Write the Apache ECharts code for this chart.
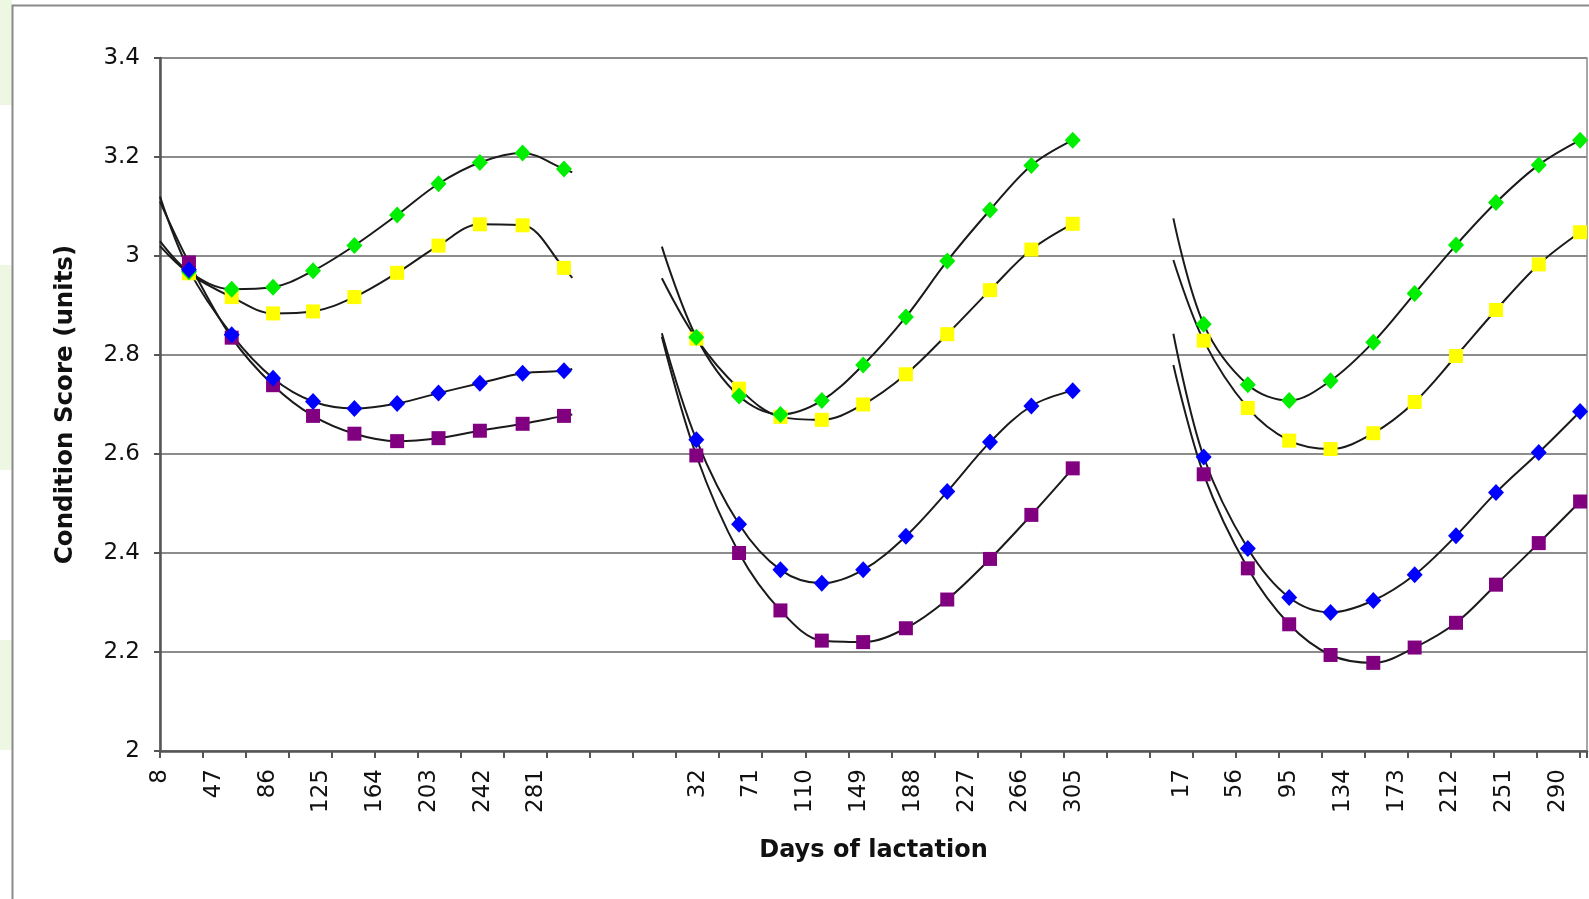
<!DOCTYPE html>
<html>
<head>
<meta charset="utf-8">
<script src="https://cdn.jsdelivr.net/npm/echarts@6/dist/echarts.min.js"></script>
<style>
  html, body { margin: 0; padding: 0; background: #ffffff; }
  #chart { width: 1589px; height: 899px; }
</style>
</head>
<body>
<div id="chart"></div>
<script>
// Category labels along the x axis, one every 39 axis units ('' in the gaps between lactations)
const tickLabels = ['8', '47', '86', '125', '164', '203', '242', '281', '', '',
  '32', '71', '110', '149', '188', '227', '266', '305', '',
  '17', '56', '95', '134', '173', '212', '251', '290'];
const labelStep = 39;
const tickStep = 31.2;
const axisEnd = 1035;

// Axis position of day 0 for each of the three lactations
const lactationStart = [-8, 358, 724];

// Test days (days of lactation) for each lactation
const testDays = [
  [29, 60, 90, 119, 149, 180, 210, 240, 271, 301],
  [31, 62, 92, 122, 152, 183, 213, 244, 274, 304],
  [33, 65, 95, 125, 156, 186, 216, 245, 276, 306]
];

// Mean condition score per group, per lactation
const greenScore = [
  [2.968, 2.933, 2.937, 2.970, 3.021, 3.083, 3.146, 3.189, 3.208, 3.176],
  [2.836, 2.717, 2.680, 2.708, 2.780, 2.877, 2.990, 3.093, 3.183, 3.234],
  [2.862, 2.740, 2.708, 2.748, 2.826, 2.924, 3.022, 3.108, 3.184, 3.234]
];
const yellowScore = [
  [2.965, 2.917, 2.884, 2.888, 2.917, 2.966, 3.021, 3.064, 3.062, 2.976],
  [2.833, 2.732, 2.675, 2.669, 2.700, 2.761, 2.842, 2.931, 3.013, 3.065],
  [2.829, 2.693, 2.627, 2.610, 2.642, 2.705, 2.798, 2.891, 2.983, 3.048]
];
const blueScore = [
  [2.972, 2.841, 2.753, 2.706, 2.692, 2.702, 2.723, 2.743, 2.763, 2.768],
  [2.629, 2.458, 2.366, 2.339, 2.366, 2.434, 2.524, 2.624, 2.697, 2.728],
  [2.594, 2.409, 2.310, 2.280, 2.304, 2.356, 2.435, 2.522, 2.603, 2.686]
];
const purpleScore = [
  [2.987, 2.835, 2.739, 2.677, 2.641, 2.626, 2.632, 2.647, 2.661, 2.677],
  [2.597, 2.400, 2.284, 2.223, 2.220, 2.248, 2.306, 2.388, 2.477, 2.571],
  [2.559, 2.369, 2.256, 2.194, 2.178, 2.209, 2.259, 2.336, 2.420, 2.504]
];

// Fitted curves: day and value where each curve begins, and where the first lactation's curves end
const curveStartDay = [8, 6, 11];
const greenCurveStart = [3.030, 3.019, 3.076];
const yellowCurveStart = [3.020, 2.955, 2.992];
const blueCurveStart = [3.120, 2.844, 2.843];
const purpleCurveStart = [3.110, 2.837, 2.780];
const curveEndDay = [307, null, null];
const greenCurveEnd = [3.169, null, null];
const yellowCurveEnd = [2.956, null, null];
const blueCurveEnd = [2.772, null, null];
const purpleCurveEnd = [2.680, null, null];

const groups = [
  { name: 'Yellow', color: '#ffff00', symbol: 'rect', size: 14, score: yellowScore, start: yellowCurveStart, end: yellowCurveEnd },
  { name: 'Green', color: '#00ee00', symbol: 'diamond', size: [16, 17], score: greenScore, start: greenCurveStart, end: greenCurveEnd },
  { name: 'Purple', color: '#800080', symbol: 'rect', size: 14, score: purpleScore, start: purpleCurveStart, end: purpleCurveEnd },
  { name: 'Blue', color: '#0000ff', symbol: 'diamond', size: [16, 17], score: blueScore, start: blueCurveStart, end: blueCurveEnd }
];

const FONT = 'DejaVu Sans';
const series = [];

// Black fitted curves, one per group and lactation
groups.forEach(g => {
  for (let l = 0; l < 3; l++) {
    const pts = [[lactationStart[l] + curveStartDay[l], g.start[l]]];
    testDays[l].forEach((d, i) => pts.push([lactationStart[l] + d, g.score[l][i]]));
    if (curveEndDay[l] !== null) pts.push([lactationStart[l] + curveEndDay[l], g.end[l]]);
    series.push({
      type: 'line', name: g.name + ' fit', data: pts, smooth: 0.35,
      showSymbol: false, symbol: 'none', silent: true, z: 3,
      lineStyle: { color: '#1a1a1a', width: 2 }
    });
  }
});

// Coloured markers at each test day
groups.forEach((g, k) => {
  const pts = [];
  for (let l = 0; l < 3; l++) {
    testDays[l].forEach((d, i) => pts.push([lactationStart[l] + d, g.score[l][i]]));
  }
  series.push({
    type: 'scatter', name: g.name, data: pts, symbol: g.symbol, symbolSize: g.size,
    z: 5 + k, itemStyle: { color: g.color, opacity: 1 }
  });
});

const chart = echarts.init(document.getElementById('chart'), null, { renderer: 'canvas' });
chart.setOption({
  animation: false,
  backgroundColor: '#ffffff',
  graphic: [
    { type: 'rect', silent: true, z: -10, shape: { x: 0, y: 0, width: 12, height: 105 }, style: { fill: '#eef7e2' } },
    { type: 'rect', silent: true, z: -10, shape: { x: 0, y: 265, width: 12, height: 205 }, style: { fill: '#eef7e2' } },
    { type: 'rect', silent: true, z: -10, shape: { x: 0, y: 640, width: 12, height: 110 }, style: { fill: '#eef7e2' } },
    { type: 'rect', silent: true, z: -9, shape: { x: 12.5, y: 5.5, width: 1600, height: 1000 },
      style: { fill: null, stroke: '#8a8a8a', lineWidth: 2 } }
  ],
  grid: {
    left: 160, right: 2, top: 58, bottom: 148,
    show: true, borderColor: '#8a8a8a', borderWidth: 1.5, backgroundColor: 'transparent'
  },
  xAxis: [
    {
      type: 'value', min: 0, max: axisEnd, interval: labelStep, position: 'bottom',
      name: 'Days of lactation', nameLocation: 'middle', nameGap: 88,
      nameTextStyle: { fontFamily: FONT, fontWeight: 'bold', fontSize: 24, color: '#111' },
      axisLine: { show: true, lineStyle: { color: '#555555', width: 2.5 } },
      axisTick: { show: false },
      splitLine: { show: false },
      axisLabel: {
        rotate: 90, margin: 18, fontFamily: FONT, fontSize: 23, color: '#111',
        showMinLabel: true, showMaxLabel: true, hideOverlap: false,
        formatter: v => {
          const i = Math.round(v / labelStep);
          return Math.abs(v - i * labelStep) < 1e-6 && tickLabels[i] !== undefined ? tickLabels[i] : '';
        }
      }
    },
    {
      type: 'value', min: 0, max: axisEnd, interval: tickStep, position: 'bottom',
      axisLine: { show: false },
      axisTick: { show: true, length: 7, lineStyle: { color: '#555555', width: 2 } },
      axisLabel: { show: false },
      splitLine: { show: false }
    }
  ],
  yAxis: {
    type: 'value', min: 2, max: 3.4, interval: 0.2,
    name: 'Condition Score (units)', nameLocation: 'middle', nameRotate: 90, nameGap: 82,
    nameTextStyle: { fontFamily: FONT, fontWeight: 'bold', fontSize: 24.5, color: '#111' },
    axisLine: { show: true, lineStyle: { color: '#555555', width: 2.5 } },
    axisTick: { show: true, length: 6, lineStyle: { color: '#555555', width: 2 } },
    splitLine: { show: true, lineStyle: { color: '#8c8c8c', width: 2 } },
    axisLabel: { margin: 20, fontFamily: FONT, fontSize: 23, color: '#111' }
  },
  series: series
});
</script>
</body>
</html>
